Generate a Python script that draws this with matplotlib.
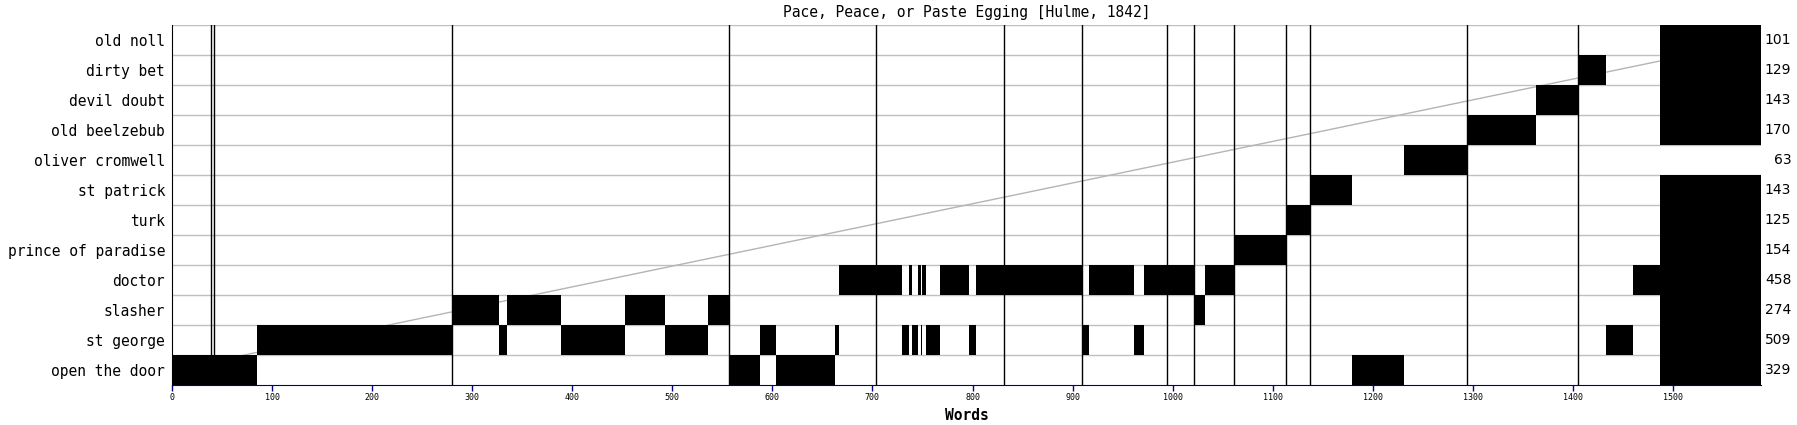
import matplotlib
matplotlib.use('Agg')
import matplotlib.pyplot as plt

#---    Data (word positions)
title = 'Pace, Peace, or Paste Egging [Hulme, 1842]'
total_words = 1588

# rows listed bottom to top
characters = ['open the door', 'st george', 'slasher', 'doctor', 'prince of paradise', 'turk',
              'st patrick', 'oliver cromwell', 'old beelzebub', 'devil doubt', 'dirty bet', 'old noll']
word_counts = [329, 509, 274, 458, 154, 125, 143, 63, 170, 143, 129, 101]

open_the_door = [(0, 85), (557, 588), (604, 663), (1179, 1231), (1487, 1588)]
st_george = [(85, 280), (327, 335), (389, 453), (493, 536), (588, 604), (663, 667), (730, 737),
             (740, 746), (748.7, 750), (754, 768), (796, 803), (909, 916), (961, 971),
             (1433, 1460), (1487, 1588)]
slasher = [(280, 327), (335, 389), (453, 493), (536, 557), (1021.5, 1032), (1487, 1588)]
doctor = [(667, 730), (737, 740), (746, 748.7), (750, 753.7), (768, 796), (803, 909),
          (916, 961), (971, 1021.5), (1032, 1061), (1460, 1588)]
prince_of_paradise = [(1061, 1113), (1487, 1588)]
turk = [(1113, 1137.5), (1487, 1588)]
st_patrick = [(1137.5, 1179), (1487, 1588)]
oliver_cromwell = [(1231, 1294.5)]
old_beelzebub = [(1294.5, 1363), (1487, 1588)]
devil_doubt = [(1363, 1405.5), (1487, 1588)]
dirty_bet = [(1405.5, 1433), (1487, 1588)]
old_noll = [(1487, 1588)]

segments = [open_the_door, st_george, slasher, doctor, prince_of_paradise, turk,
            st_patrick, oliver_cromwell, old_beelzebub, devil_doubt, dirty_bet, old_noll]

scene_breaks = [39, 42, 280, 557, 704, 831, 909, 994, 1021.5, 1061, 1113, 1137.5, 1294.5, 1405.5]

x_ticks = list(range(0, 1501, 100))

#---    Figure
mono = 'DejaVu Sans Mono'
navy = '#000080'
n = len(characters)

fig = plt.figure(figsize=(17.97, 4.25), dpi=100)
ax = fig.add_axes([172/1797, 40/425, (1761-172)/1797, 360/425])

# row separators
for k in range(1, n + 1):
    ax.axhline(k - 0.5, color='#c0c0c0', linewidth=1, zorder=1)

# diagonal reference line
ax.plot([0, total_words], [0, n - 1], color='#b4b4b4', linewidth=1, zorder=1.5)

# speech blocks
for i, segs in enumerate(segments):
    ax.broken_barh([(a, b - a) for a, b in segs], (i - 0.5, 1), facecolors='black',
                   linewidth=0, antialiased=False, zorder=2)

# scene breaks
for s in scene_breaks:
    ax.axvline(s, color='black', linewidth=1, zorder=3)

ax.set_xlim(0, total_words)
ax.set_ylim(-0.5, n - 0.5)

ax.set_yticks(range(n))
ax.set_yticklabels(characters, fontsize=10.5, family=mono)
ax.tick_params(axis='y', length=0, pad=5)

ax.set_xticks(x_ticks)
ax.set_xticklabels([str(t) for t in x_ticks], fontsize=6, family=mono)
ax.tick_params(axis='x', length=4, width=1, color=navy, pad=2)

for i, c in enumerate(word_counts):
    ax.text(1.019, i, str(c), transform=ax.get_yaxis_transform(), ha='right', va='center',
            fontsize=10, family='DejaVu Sans')

ax.spines['top'].set_visible(False)
ax.spines['right'].set_visible(False)
ax.spines['bottom'].set_color(navy)
ax.spines['left'].set_color('black')
ax.spines['left'].set_zorder(4)

ax.set_title(title, fontsize=10.5, family=mono, pad=6)
ax.set_xlabel('Words', fontsize=10.5, family=mono, fontweight='bold', labelpad=4)

fig.savefig('out.png', dpi=100)
